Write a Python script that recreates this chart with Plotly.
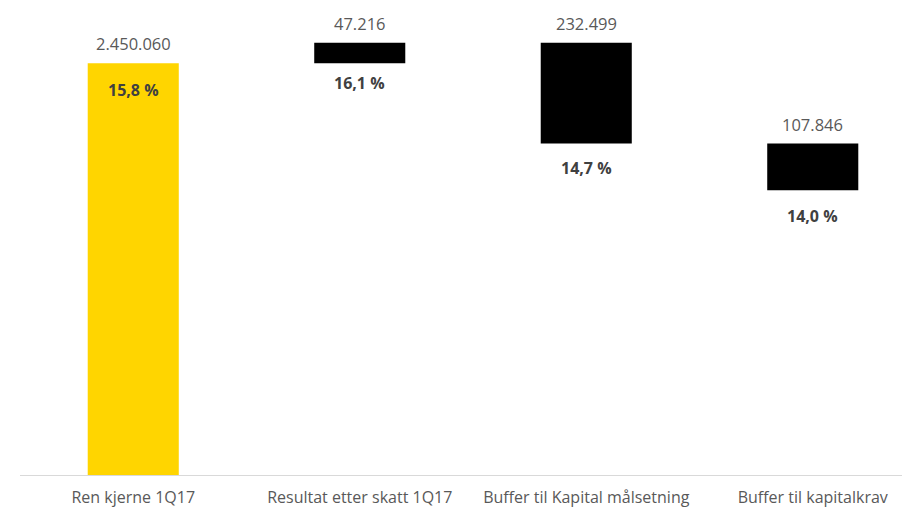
import plotly.graph_objects as go

categories = ["Ren kjerne 1Q17", "Resultat etter skatt 1Q17", "Buffer til Kapital målsetning", "Buffer til kapitalkrav"]
changes = [2450060, 47216, -232499, -107846]
value_labels = ["2.450.060", "47.216", "232.499", "107.846"]
pct_labels = ["15,8 %", "16,1 %", "14,7 %", "14,0 %"]
colors = ["#FFD500", "#000000", "#000000", "#000000"]

# waterfall bases
bases, heights, tops, bottoms = [], [], [], []
running = 0
for i, c in enumerate(changes):
    if i == 0:
        b, h = 0, c
        running = c
    else:
        start = running
        running = running + c
        b = min(start, running)
        h = abs(c)
    bases.append(b)
    heights.append(h)
    tops.append(b + h)
    bottoms.append(b)

fig = go.Figure()
fig.add_trace(go.Bar(
    x=list(range(len(categories))), y=heights, base=bases,
    marker=dict(color=colors, line=dict(width=0)),
    width=0.402, hoverinfo="skip",
))

pct_shift = [-14, -7, -11, -13]
annotations = []
for i in range(len(categories)):
    annotations.append(dict(
        x=i, y=tops[i], xref="x", yref="y", text=value_labels[i],
        showarrow=False, yanchor="bottom", yshift=6,
        font=dict(family="Open Sans", size=16.5, color="#595959"),
    ))
    annotations.append(dict(
        x=i, y=tops[i] if i == 0 else bottoms[i], xref="x", yref="y",
        text="<b>" + pct_labels[i] + "</b>",
        showarrow=False, yanchor="top", yshift=pct_shift[i],
        font=dict(family="Open Sans", size=16, color="#404040"),
    ))

fig.update_layout(
    width=902, height=509,
    margin=dict(l=20, r=0, t=20, b=34),
    plot_bgcolor="white", paper_bgcolor="white",
    showlegend=False,
    annotations=annotations,
    xaxis=dict(
        range=[-0.5, 3.394],
        tickmode="array", tickvals=list(range(len(categories))), ticktext=categories,
        showline=True, linecolor="#d9d9d9", linewidth=1,
        showgrid=False, zeroline=False, ticks="",
        ticklabelstandoff=8,
        tickfont=dict(family="Open Sans", size=16, color="#595959"),
    ),
    yaxis=dict(range=[1500000, 2550000], visible=False, showgrid=False, zeroline=False),
)

fig.write_html("out.html")
